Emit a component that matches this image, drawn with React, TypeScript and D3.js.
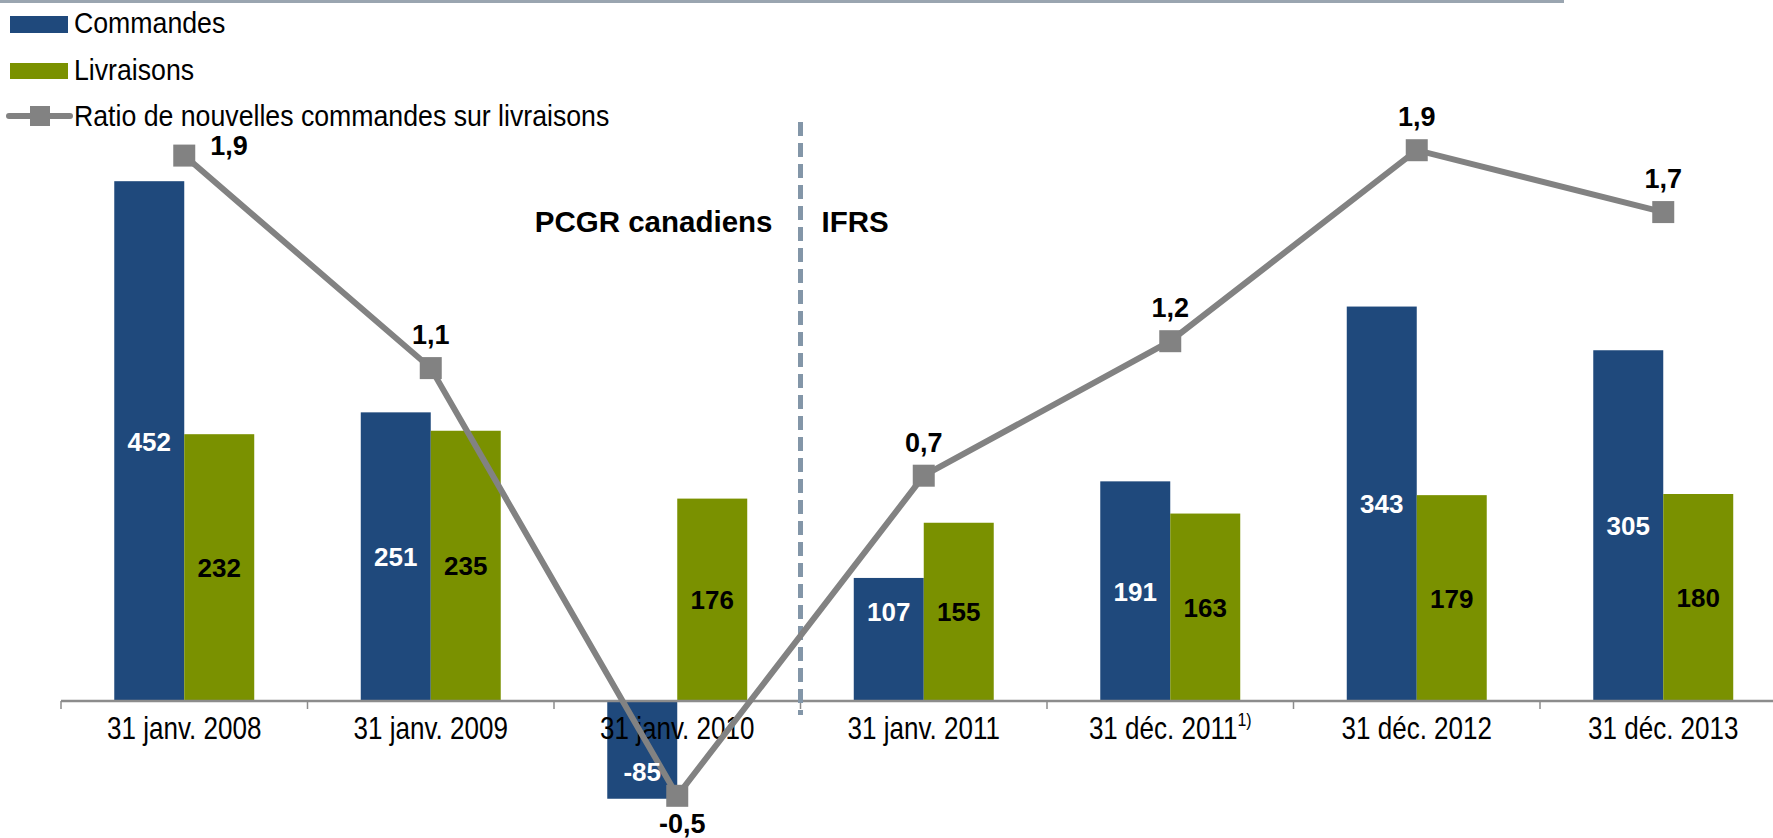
import * as d3 from 'd3'

const categories = [
  '31 janv. 2008',
  '31 janv. 2009',
  '31 janv. 2010',
  '31 janv. 2011',
  '31 déc. 2011',
  '31 déc. 2012',
  '31 déc. 2013',
]
const footnotes = ['', '', '', '', '1)', '', '']
const commandes = [452, 251, -85, 107, 191, 343, 305]
const livraisons = [232, 235, 176, 155, 163, 179, 180]
const ratio = [1.89, 1.1, -0.49, 0.7, 1.2, 1.91, 1.68]
const seriesNames = ['Commandes', 'Livraisons', 'Ratio de nouvelles commandes sur livraisons']

const W = 1773
const H = 838
const BLUE = '#1f497c'
const GREEN = '#7a9100'
const GREY = '#828282'
const FONT = "'Liberation Sans', Arial, sans-serif"

// condensed look: Arial metrics squeezed horizontally
function Narrow({ x, y, anchor = 'start', size = 30, squeeze = 0.84, children }: any) {
  return (
    <g transform={`translate(${x},${y}) scale(${squeeze},1)`}>
      <text x={0} y={0} textAnchor={anchor} fontFamily={FONT} fontSize={size} fill="#000">
        {children}
      </text>
    </g>
  )
}

export default function App() {
  const x = d3.scaleBand<string>().domain(categories).range([61, 61 + 246.5 * 7])
  const x1 = d3.scaleBand<string>().domain(['c', 'l']).range([0, x.bandwidth()]).paddingOuter(0.761)
  const y = d3.scaleLinear().domain([0, 500]).range([701, 126])
  const yR = d3.scaleLinear().domain([0, 2]).range([664, 126])
  const fmt = (v: number) => d3.format('.1f')(v).replace('.', ',').replace('\u2212', '-')

  const pts = categories.map((c, i) => [x(c)! + x.bandwidth() / 2, yR(ratio[i])] as [number, number])
  const line = d3.line()(pts) || ''
  const sepX = x(categories[3])!
  const bw = x1.bandwidth()

  return (
    <svg width={W} height={H} style={{ position: 'absolute', left: 0, top: 0, background: '#fff' }}>
      <rect x={0} y={0} width={1564} height={3} fill="#9aa5b0" />

      {/* legend */}
      <rect x={10} y={16} width={58} height={17} fill={BLUE} />
      <rect x={10} y={63} width={58} height={16} fill={GREEN} />
      <line x1={9} x2={70} y1={116} y2={116} stroke={GREY} strokeWidth={6} strokeLinecap="round" />
      <rect x={30} y={106} width={20} height={20} fill={GREY} />
      {seriesNames.map((s, i) => (
        <Narrow key={s} x={74} y={[33, 80, 126][i]} size={30} squeeze={0.89}>
          {s}
        </Narrow>
      ))}

      {/* bars */}
      {categories.map((c, i) => {
        const bx = x(c)!
        const v1 = commandes[i]
        const v2 = livraisons[i]
        return (
          <g key={c}>
            <rect x={bx + x1('c')!} y={Math.min(y(v1), y(0))} width={bw} height={Math.abs(y(v1) - y(0))} fill={BLUE} />
            <rect x={bx + x1('l')!} y={y(v2)} width={bw} height={y(0) - y(v2)} fill={GREEN} />
          </g>
        )
      })}

      {/* axis */}
      <line x1={x.range()[0]} x2={W} y1={y(0)} y2={y(0)} stroke="#8c8c8c" strokeWidth={2.5} />
      {categories.map((c) => (
        <line key={c} x1={x(c)!} x2={x(c)!} y1={y(0)} y2={y(0) + 8} stroke="#8c8c8c" strokeWidth={1.5} />
      ))}
      {categories.map((c, i) => (
        <Narrow key={c} x={x(c)! + x.bandwidth() / 2} y={739} anchor="middle" size={31}>
          {c}
          {footnotes[i] && (
            <tspan fontSize={19} dy={-13}>
              {footnotes[i]}
            </tspan>
          )}
        </Narrow>
      ))}

      {/* separator */}
      <line x1={sepX} x2={sepX} y1={122} y2={715} stroke="#8396a8" strokeWidth={5} strokeDasharray="14 7" />
      <text x={sepX - 28} y={232} textAnchor="end" fontFamily={FONT} fontWeight="bold" fontSize={29.5} fill="#000">
        PCGR canadiens
      </text>
      <text x={sepX + 21} y={232} fontFamily={FONT} fontWeight="bold" fontSize={29.5} fill="#000">
        IFRS
      </text>

      {/* ratio line */}
      <path d={line} fill="none" stroke={GREY} strokeWidth={6} />
      {pts.map(([px, py], i) => (
        <rect key={i} x={px - 11} y={py - 11} width={22} height={22} fill={GREY} />
      ))}

      {/* bar labels */}
      {categories.map((c, i) => {
        const bx = x(c)!
        const v1 = commandes[i]
        const v2 = livraisons[i]
        const mid2 = (y(v2) + y(0)) / 2
        const mid1 = v1 < 0 ? y(v1) - 27 : Math.min((y(v1) + y(0)) / 2, mid2)
        return (
          <g key={c} fontFamily={FONT} fontWeight="bold" fontSize={26} textAnchor="middle">
            <text x={bx + x1('c')! + bw / 2} y={mid1 + 9.5} fill="#fff">
              {v1}
            </text>
            <text x={bx + x1('l')! + bw / 2} y={mid2 + 9.5} fill="#000">
              {v2}
            </text>
          </g>
        )
      })}

      {/* ratio labels */}
      {pts.map(([px, py], i) => {
        let tx = px
        let ty = py - 24
        let anchor = 'middle'
        if (i === 0) {
          tx = px + 26
          ty = py - 1
          anchor = 'start'
        } else if (ratio[i] < 0) {
          tx = px + 5
          ty = py + 37
        }
        return (
          <text key={i} x={tx} y={ty} textAnchor={anchor} fontFamily={FONT} fontWeight="bold" fontSize={27} fill="#000">
            {fmt(ratio[i])}
          </text>
        )
      })}
    </svg>
  )
}
